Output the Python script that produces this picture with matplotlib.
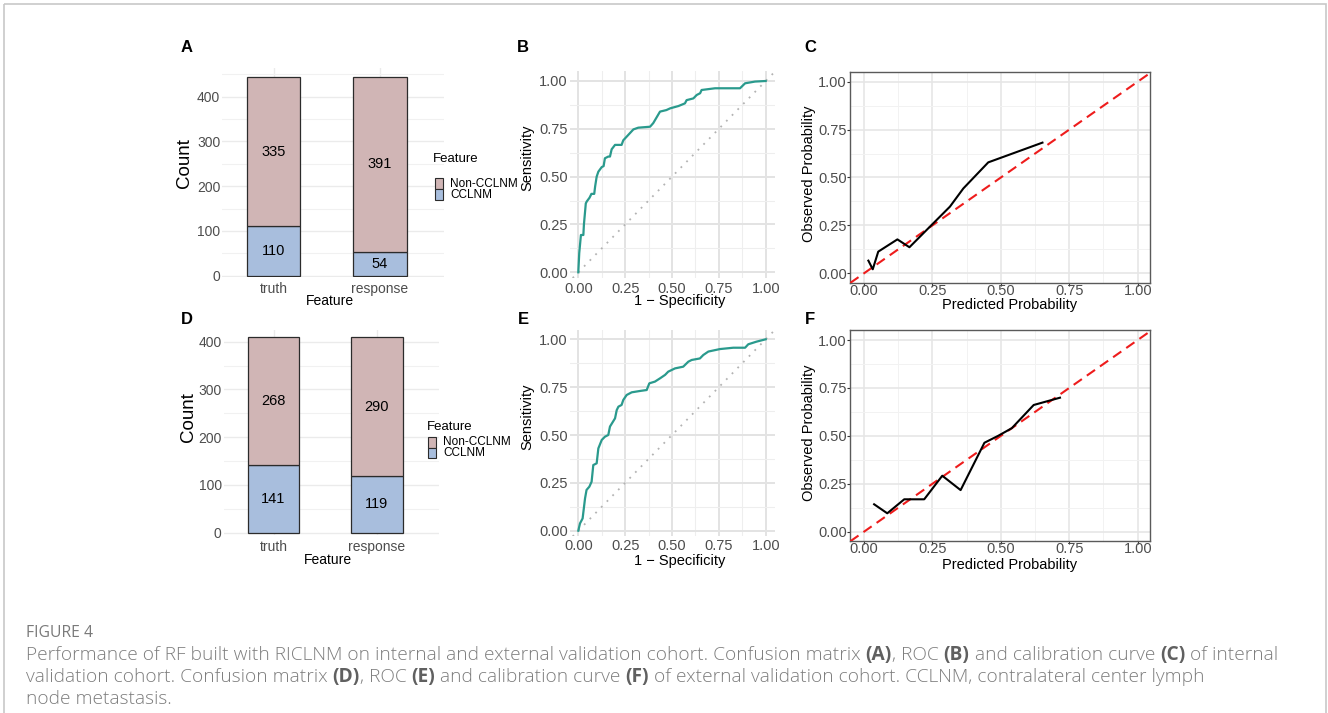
import numpy as np
import matplotlib
matplotlib.use("Agg")
import matplotlib.pyplot as plt
from matplotlib.patches import Rectangle
from matplotlib.ticker import MultipleLocator, FormatStrFormatter

# === Data ===
bar_categories = ["truth", "response"]
legend_labels = ["Non-CCLNM", "CCLNM"]
internal_cclnm = [110, 54]
internal_non = [335, 391]
external_cclnm = [141, 119]
external_non = [268, 290]

roc_b_fpr = [0.0, 0.005, 0.014, 0.027, 0.03, 0.04, 0.045, 0.06, 0.07, 0.085, 0.09, 0.098,
             0.107, 0.125, 0.135, 0.142, 0.16, 0.169, 0.178, 0.196, 0.231, 0.24, 0.258,
             0.294, 0.32, 0.383, 0.40, 0.436, 0.47, 0.49, 0.534, 0.569, 0.578, 0.614,
             0.632, 0.65, 0.658, 0.73, 0.863, 0.89, 0.943, 1.0]
roc_b_tpr = [0.0, 0.10, 0.195, 0.195, 0.25, 0.36, 0.37, 0.39, 0.41, 0.41, 0.45, 0.50,
             0.526, 0.55, 0.555, 0.596, 0.605, 0.605, 0.643, 0.666, 0.666, 0.69, 0.709,
             0.747, 0.756, 0.761, 0.78, 0.84, 0.848, 0.857, 0.869, 0.883, 0.90, 0.909,
             0.927, 0.936, 0.953, 0.962, 0.962, 0.988, 0.997, 1.0]

roc_e_fpr = [0.0, 0.009, 0.023, 0.036, 0.044, 0.059, 0.071, 0.08, 0.098, 0.107, 0.125,
             0.142, 0.16, 0.169, 0.196, 0.205, 0.214, 0.231, 0.24, 0.258, 0.285, 0.329,
             0.365, 0.379, 0.409, 0.436, 0.463, 0.48, 0.516, 0.56, 0.587, 0.605, 0.649,
             0.667, 0.694, 0.756, 0.827, 0.89, 0.907, 0.952, 1.0]
roc_e_tpr = [0.0, 0.038, 0.064, 0.169, 0.213, 0.23, 0.256, 0.343, 0.352, 0.43, 0.474,
             0.491, 0.50, 0.544, 0.587, 0.63, 0.648, 0.657, 0.683, 0.709, 0.723, 0.73,
             0.735, 0.77, 0.779, 0.796, 0.814, 0.831, 0.848, 0.857, 0.883, 0.892, 0.90,
             0.918, 0.936, 0.949, 0.956, 0.956, 0.974, 0.988, 1.0]

cal_c_pred = [0.016, 0.032, 0.052, 0.122, 0.166, 0.235, 0.314, 0.363, 0.454, 0.652]
cal_c_obs = [0.066, 0.021, 0.113, 0.177, 0.136, 0.235, 0.348, 0.443, 0.579, 0.682]

cal_f_pred = [0.037, 0.085, 0.147, 0.22, 0.286, 0.353, 0.44, 0.49, 0.54, 0.62, 0.716]
cal_f_obs = [0.143, 0.096, 0.169, 0.169, 0.292, 0.217, 0.464, 0.50, 0.54, 0.661, 0.699]

# === Styles ===
W, H = 1328, 713
PINK = "#D0B5B5"
BLUE = "#A8BEDD"
TEAL = "#2A9A8D"
TICK_GREY = "#4D4D4D"

plt.rcParams["font.family"] = ["Liberation Sans", "DejaVu Sans"]
fig = plt.figure(figsize=(W / 100, H / 100), dpi=100)


def axes_at(xref, yref, xlim, ylim):
    # place an axes so that two known tick values land on their pixel positions
    (px0, v0), (px1, v1) = xref
    sx = (px1 - px0) / (v1 - v0)
    left = px0 + (xlim[0] - v0) * sx
    right = px0 + (xlim[1] - v0) * sx
    (py0, w0), (py1, w1) = yref
    sy = (py1 - py0) / (w1 - w0)
    bottom = py0 + (ylim[0] - w0) * sy
    top = py0 + (ylim[1] - w0) * sy
    ax = fig.add_axes([left / W, 1 - bottom / H, (right - left) / W, (bottom - top) / H])
    ax.set_xlim(xlim)
    ax.set_ylim(ylim)
    return ax


def labels_at(ax, xlabel, xpos, ylabel, ypos, xsize, ysize):
    ax.set_xlabel(xlabel, fontsize=xsize, va="center", ha="center")
    ax.xaxis.set_label_coords(xpos[0] / W, 1 - xpos[1] / H, transform=fig.transFigure)
    ax.set_ylabel(ylabel, fontsize=ysize, va="center", ha="center")
    ax.yaxis.set_label_coords(ypos[0] / W, 1 - ypos[1] / H, transform=fig.transFigure)


def bar_panel(ax, cclnm, non, xpad, ypad):
    x = np.arange(1, len(bar_categories) + 1)
    b1 = ax.bar(x, cclnm, width=0.5, color=BLUE, edgecolor="#2b2b2b", linewidth=0.9, zorder=3)
    b2 = ax.bar(x, non, bottom=cclnm, width=0.5, color=PINK, edgecolor="#2b2b2b",
                linewidth=0.9, zorder=3)
    ax.bar_label(b1, label_type="center", fontsize=10.5)
    ax.bar_label(b2, label_type="center", fontsize=10.5)
    ax.set_xticks(x, bar_categories)
    ax.yaxis.set_major_locator(MultipleLocator(100))
    ax.yaxis.set_minor_locator(MultipleLocator(50))
    ax.grid(True, which="major", color="#EBEBEB", lw=1.0)
    ax.grid(True, which="minor", axis="y", color="#F1F1F1", lw=0.8)
    ax.set_axisbelow(True)
    for s in ax.spines.values():
        s.set_visible(False)
    ax.tick_params(which="both", length=0, labelsize=10, labelcolor=TICK_GREY)
    ax.tick_params(axis="x", pad=xpad)
    ax.tick_params(axis="y", pad=ypad)


def roc_panel(ax, fpr, tpr, xpad):
    ax.axline((0, 0), slope=1, color="#B3B3B3", ls=(0, (1, 3.5)), lw=1.3, zorder=2)
    ax.plot(fpr, tpr, color=TEAL, lw=1.6, zorder=3)
    for axis in (ax.xaxis, ax.yaxis):
        axis.set_major_locator(MultipleLocator(0.25))
        axis.set_minor_locator(MultipleLocator(0.125))
        axis.set_major_formatter(FormatStrFormatter("%.2f"))
    ax.grid(True, which="major", color="#E3E3E3", lw=1.4)
    ax.grid(True, which="minor", color="#EEEEEE", lw=0.8)
    ax.set_axisbelow(True)
    for s in ax.spines.values():
        s.set_visible(False)
    ax.tick_params(which="both", length=0, labelsize=10.5, labelcolor=TICK_GREY)
    ax.tick_params(axis="x", pad=xpad)
    ax.tick_params(axis="y", pad=1.5)


def cal_panel(ax, pred, obs):
    ax.axline((0, 0), slope=1, color="#EE1C1C", ls=(0, (4.8, 2.9)), lw=1.5, zorder=3)
    ax.plot(pred, obs, color="black", lw=1.5, zorder=4)
    for axis in (ax.xaxis, ax.yaxis):
        axis.set_major_locator(MultipleLocator(0.25))
        axis.set_minor_locator(MultipleLocator(0.125))
        axis.set_major_formatter(FormatStrFormatter("%.2f"))
    ax.grid(True, which="major", color="#E6E6E6", lw=1.2)
    ax.grid(True, which="minor", color="#F2F2F2", lw=0.7)
    ax.set_axisbelow(True)
    for s in ax.spines.values():
        s.set_color("#5A5A5A")
        s.set_linewidth(1.0)
    ax.tick_params(which="minor", length=0)
    ax.tick_params(which="major", length=2, width=0.8, color="#333333", labelcolor=TICK_GREY)
    ax.tick_params(axis="x", labelsize=10.5, pad=-1.5)
    ax.tick_params(axis="y", labelsize=10.5, pad=0.5)


# === Panel A ===
ax_a = axes_at(((273.5, 1), (380, 2)), ((275.7, 0), (96.7, 400)), (0.52, 2.6), (-2, 465))
bar_panel(ax_a, internal_cclnm, internal_non, xpad=4, ypad=1.5)
labels_at(ax_a, "Feature", (330, 301), "Count", (184, 163), 10, 13.5)

# === Panel D ===
ax_d = axes_at(((273.5, 1), (377, 2)), ((532.7, 0), (341.7, 400)), (0.52, 2.6), (-4, 425))
bar_panel(ax_d, external_cclnm, external_non, xpad=4, ypad=1.5)
labels_at(ax_d, "Feature", (328, 560), "Count", (188, 417), 10, 13.5)

# === Panel B ===
ax_b = axes_at(((578.3, 0), (765.7, 1)), ((272.3, 0), (81, 1)), (-0.045, 1.05), (-0.03, 1.05))
roc_panel(ax_b, roc_b_fpr, roc_b_tpr, xpad=3)
labels_at(ax_b, "1 \u2212 Specificity", (680, 301), "Sensitivity", (527, 158), 10.5, 10.5)

# === Panel E ===
ax_e = axes_at(((578.3, 0), (765.7, 1)), ((530.7, 0), (339.3, 1)), (-0.045, 1.05), (-0.03, 1.05))
roc_panel(ax_e, roc_e_fpr, roc_e_tpr, xpad=2)
labels_at(ax_e, "1 \u2212 Specificity", (680, 561), "Sensitivity", (527, 417), 10.5, 10.5)

# === Panel C ===
ax_c = axes_at(((864, 0), (1137.7, 1)), ((273.3, 0), (81.7, 1)), (-0.05, 1.045), (-0.05, 1.05))
cal_panel(ax_c, cal_c_pred, cal_c_obs)
labels_at(ax_c, "Predicted Probability", (1010, 305.5), "Observed Probability", (809, 174), 10.5, 10.5)

# === Panel F ===
ax_f = axes_at(((864, 0), (1137.7, 1)), ((531.7, 0), (340, 1)), (-0.05, 1.045), (-0.05, 1.05))
cal_panel(ax_f, cal_f_pred, cal_f_obs)
labels_at(ax_f, "Predicted Probability", (1010, 564.5), "Observed Probability", (809, 433), 10.5, 10.5)

# === Overlay in pixel units: frame, panel letters, legends, caption ===
ov = fig.add_axes([0, 0, 1, 1])
ov.set_xlim(0, W)
ov.set_ylim(H, 0)
ov.axis("off")
ov.add_patch(Rectangle((4, 4), 1322, 760, fill=False, edgecolor="#C8C8C8", lw=1.2, clip_on=True))

for letter, (lx, ly) in zip("ABCDEF", [(187, 48), (523, 48), (810, 48),
                                     (187, 320), (523, 320), (810, 319)]):
    ov.text(lx, ly, letter, fontsize=12, fontweight="bold", ha="center", va="center")


def legend_at(x_title, y_title, key_x, key_top, key_h, text_x):
    ov.text(x_title, y_title, "Feature", fontsize=9.5, ha="left", va="center")
    for i, (lab, col) in enumerate(zip(legend_labels, [PINK, BLUE])):
        top = key_top + i * key_h
        ov.add_patch(Rectangle((key_x, top), 8, key_h, facecolor=col,
                               edgecolor="#2b2b2b", lw=0.8))
        ov.text(text_x, top + key_h / 2, lab, fontsize=8.5, ha="left", va="center")


legend_at(433, 159.5, 435, 178.3, 11, 450)
legend_at(426.5, 427.3, 428, 436.7, 10.8, 443.5)

# caption with bold panel references
renderer = fig.canvas.get_renderer()
CAP_FONT = ["Open Sans", "DejaVu Sans"]
CAP_COL = "#7d7d7d"
BOLD_COL = "#606060"


def text_width(s, size, bold):
    t = ov.text(0, 0, s + "|", fontsize=size, family=CAP_FONT,
                fontweight="bold" if bold else "light")
    t2 = ov.text(0, 0, "|", fontsize=size, family=CAP_FONT,
                 fontweight="bold" if bold else "light")
    w = t.get_window_extent(renderer).width - t2.get_window_extent(renderer).width
    t.remove()
    t2.remove()
    return w


line1 = [("Performance of RF built with RICLNM on internal and external validation cohort. "
          "Confusion matrix ", False), ("(A)", True), (", ROC ", False), ("(B)", True),
         (" and calibration curve ", False), ("(C)", True), (" of internal", False)]
line2 = [("validation cohort. Confusion matrix ", False), ("(D)", True), (", ROC ", False),
         ("(E)", True), (" and calibration curve ", False), ("(F)", True),
         (" of external validation cohort. CCLNM, contralateral center lymph", False)]
line3 = [("node metastasis.", False)]

# fit the caption font size to the measured width of the first line
base = 12.0
w1 = sum(text_width(s, base, b) for s, b in line1)
cap_size = base * (1251 / w1)


def draw_line(x, y, segs):
    for s, b in segs:
        ov.text(x, y, s, fontsize=cap_size, family=CAP_FONT, va="center", ha="left",
                fontweight="bold" if b else "light", color=BOLD_COL if b else CAP_COL)
        x += text_width(s, cap_size, b)


ov.text(26, 633, "FIGURE 4", fontsize=cap_size * 0.82, family=CAP_FONT, color="#7a7a7a",
        va="center", ha="left")
draw_line(26, 655, line1)
draw_line(26, 677, line2)
draw_line(26, 699, line3)

fig.savefig("out.png", dpi=100)
